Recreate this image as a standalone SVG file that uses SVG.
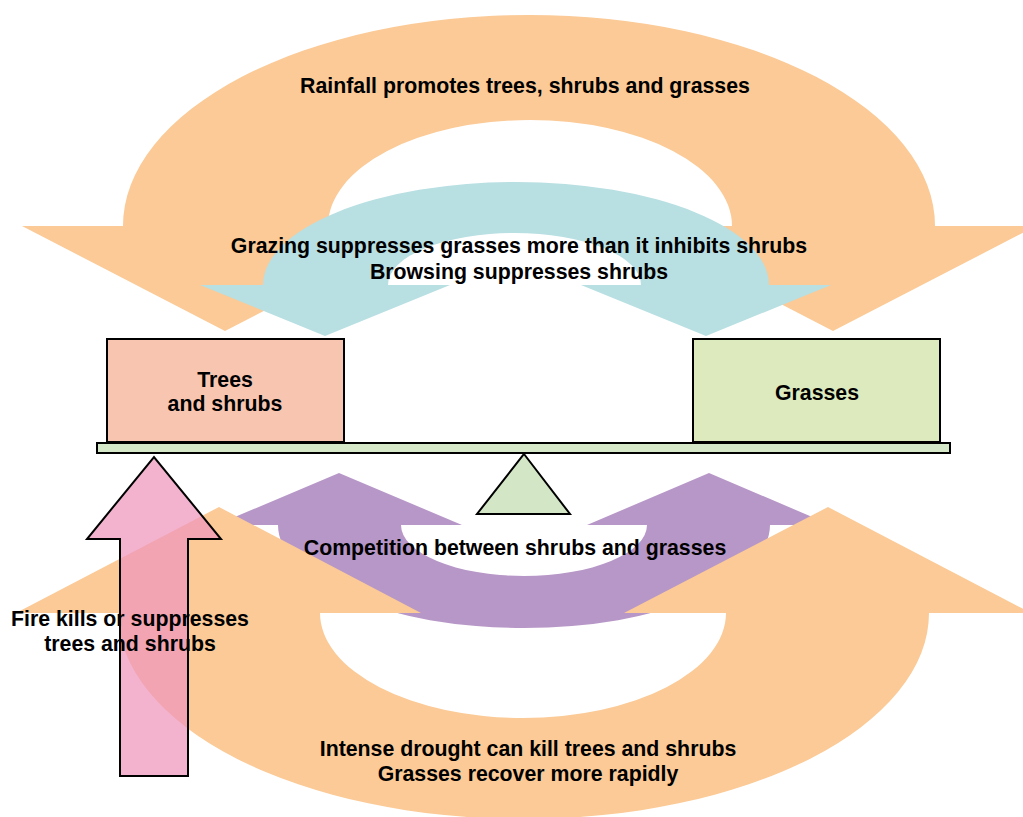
<svg xmlns="http://www.w3.org/2000/svg" width="1023" height="817" viewBox="0 0 1023 817">
<style>
text{font-family:"Liberation Sans",Arial,sans-serif;font-weight:bold;font-size:21.3px;fill:#000;text-anchor:middle}
.orange{fill:#FBCA96}
.blue{fill:#B8DFE2}
.purple{fill:#B797C7}
.box{stroke:#000;stroke-width:2}
</style>
<rect width="1023" height="817" fill="#fff"/>
<g id="connectors">
<g id="rainfall">
<path class="orange" d="M123 226 A406 211 0 0 1 935 226 L1036 226 L833 331 L630 226 L732 226 A202 106 0 0 0 328 226 L429 226 L225 331 L22 226 Z"/>
</g>
<g id="grazing">
<path class="blue" d="M263 285 A253 103 0 0 1 769 285 L831 285 L706 336 L581 285 L641 285 A126.5 52 0 0 0 388 285 L450 285 L325 336 L200 285 Z"/>
</g>
<g id="competition">
<path class="purple" d="M278 525 A246 103 0 0 0 770 525 L831 525 L709 473 L587 525 L647 525 A123 51 0 0 1 401 525 L462 525 L339 473 L216 525 Z"/>
</g>
<g id="drought">
<path class="orange" d="M118 613 A405.5 206 0 0 0 929 613 L1031 613 L828 507 L624 613 L726 613 A203 105 0 0 1 320 613 L421 613 L219 507 L16 613 Z"/>
</g>
<g id="fire">
<path d="M120 776 L120 539 L87 539 L154 457 L221 539 L188 539 L188 776 Z" fill="rgb(239,149,188)" fill-opacity="0.72" stroke="#000" stroke-width="2"/>
</g>
</g>
<g id="beam">
<rect x="97" y="443" width="853" height="10" fill="#D5E8C8" stroke="#000" stroke-width="2"/>
</g>
<g id="fulcrum">
<polygon points="524,454 570,514 477,514" fill="#D3E7C6" stroke="#000" stroke-width="2"/>
</g>
<g id="trees">
<rect class="box" x="107" y="339" width="237" height="103" fill="#F8C6B0"/>
<text x="225" y="387">Trees</text>
<text x="225" y="411">and shrubs</text>
</g>
<g id="grasses">
<rect class="box" x="693" y="339" width="247" height="103" fill="#DCEABD"/>
<text x="817" y="400">Grasses</text>
</g>
<g id="labels">
<text x="525" y="93">Rainfall promotes trees, shrubs and grasses</text>
<text x="519" y="253">Grazing suppresses grasses more than it inhibits shrubs</text>
<text x="519" y="279">Browsing suppresses shrubs</text>
<text x="515" y="555">Competition between shrubs and grasses</text>
<text x="130" y="626">Fire kills or suppresses</text>
<text x="130" y="651">trees and shrubs</text>
<text x="528" y="756">Intense drought can kill trees and shrubs</text>
<text x="528" y="781">Grasses recover more rapidly</text>
</g>
</svg>
